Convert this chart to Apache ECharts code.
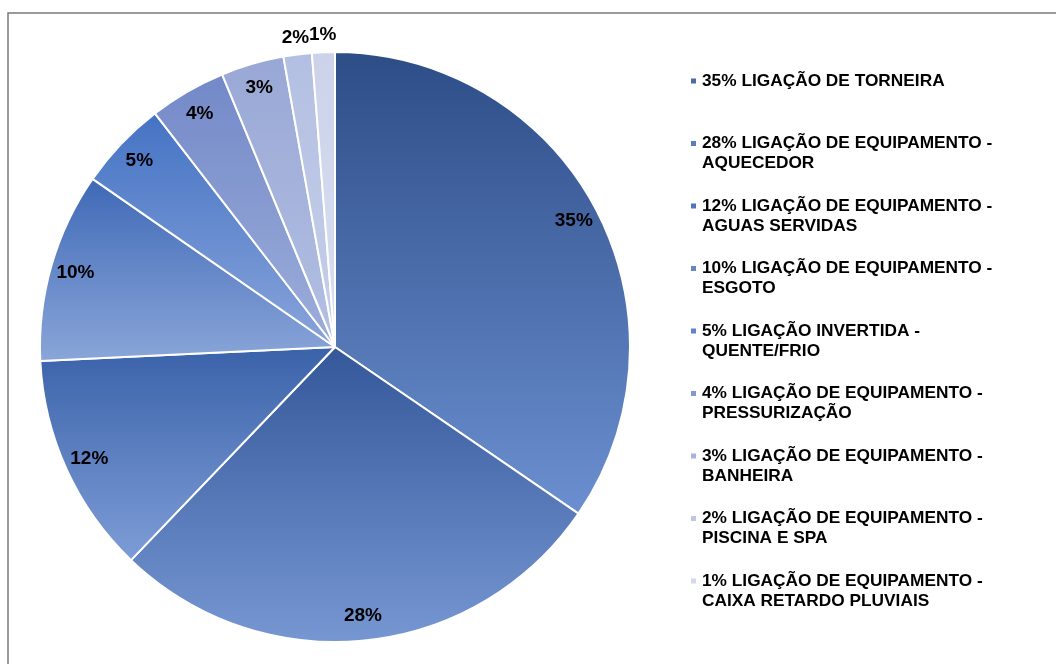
<!DOCTYPE html>
<html>
<head>
<meta charset="utf-8">
<script src="https://cdn.jsdelivr.net/npm/echarts@6/dist/echarts.min.js"></script>
<style>
html,body{margin:0;padding:0;background:#fff;}
#chart{width:1056px;height:664px;}
</style>
</head>
<body>
<div id="chart"></div>
<script>
const categories = [
  "LIGAÇÃO DE TORNEIRA",
  "LIGAÇÃO DE EQUIPAMENTO - AQUECEDOR",
  "LIGAÇÃO DE EQUIPAMENTO - AGUAS SERVIDAS",
  "LIGAÇÃO DE EQUIPAMENTO - ESGOTO",
  "LIGAÇÃO INVERTIDA - QUENTE/FRIO",
  "LIGAÇÃO DE EQUIPAMENTO - PRESSURIZAÇÃO",
  "LIGAÇÃO DE EQUIPAMENTO - BANHEIRA",
  "LIGAÇÃO DE EQUIPAMENTO - PISCINA E SPA",
  "LIGAÇÃO DE EQUIPAMENTO - CAIXA RETARDO PLUVIAIS"
];
const legendLines = [
  ["35% LIGAÇÃO DE TORNEIRA", " "],
  ["28% LIGAÇÃO DE EQUIPAMENTO -", "AQUECEDOR"],
  ["12% LIGAÇÃO DE EQUIPAMENTO -", "AGUAS SERVIDAS"],
  ["10% LIGAÇÃO DE EQUIPAMENTO -", "ESGOTO"],
  ["5% LIGAÇÃO INVERTIDA -", "QUENTE/FRIO"],
  ["4% LIGAÇÃO DE EQUIPAMENTO -", "PRESSURIZAÇÃO"],
  ["3% LIGAÇÃO DE EQUIPAMENTO -", "BANHEIRA"],
  ["2% LIGAÇÃO DE EQUIPAMENTO -", "PISCINA E SPA"],
  ["1% LIGAÇÃO DE EQUIPAMENTO -", "CAIXA RETARDO PLUVIAIS"]
];
// slice shares
const values = [34.55, 27.6, 12.1, 10.4, 4.9, 4.2, 3.45, 1.55, 1.25];
// printed (rounded) percentage labels
const labelPct = ["35%", "28%", "12%", "10%", "5%", "4%", "3%", "2%", "1%"];
const topColors = ["#2D4D87", "#34579A", "#3A62A9", "#3F69B6", "#4473C4", "#7389C8", "#98A7D5", "#B3BFE2", "#CBD2EA"];
const bottomColors = ["#6B8FD0", "#7697D2", "#7E9DD7", "#8AA6D9", "#89A4DA", "#9DAEDB", "#B4C0E3", "#C7D0EB", "#DADFF1"];
const legendColors = ["#4A6AA8", "#5B7DBE", "#4F74BC", "#6587C8", "#5D83CE", "#8299D1", "#A6B3DB", "#BCC6E5", "#D2D8EE"];
const outsideLabelIdx = [7, 8];

const chart = echarts.init(document.getElementById('chart'));

const grad = i => new echarts.graphic.LinearGradient(0, 0, 0, 1, [
  {offset: 0, color: topColors[i]},
  {offset: 1, color: bottomColors[i]}
]);

const labelFont = {fontFamily: "'Liberation Sans', Arial, sans-serif", fontWeight: 'bold', fontSize: 19, color: '#000'};

const mainData = categories.map((c, i) => ({name: c, value: values[i], itemStyle: {color: grad(i)}}));
const innerLabelData = categories.map((c, i) => ({
  name: c, value: values[i],
  label: {show: outsideLabelIdx.indexOf(i) < 0}
}));
const outerLabelData = categories.map((c, i) => ({
  name: c, value: values[i],
  label: {show: outsideLabelIdx.indexOf(i) >= 0}
}));

const legendMap = {};
categories.forEach((c, i) => { legendMap[c] = legendLines[i]; });

chart.setOption({
  animation: false,
  backgroundColor: '#fff',
  graphic: [{
    type: 'rect', silent: true, z: 0,
    shape: {x: 8, y: 13, width: 1200, height: 800},
    style: {fill: 'none', stroke: '#7a7a7a', lineWidth: 1.5}
  }],
  legend: {
    orient: 'vertical',
    left: 684,
    top: 46,
    itemWidth: 7,
    itemHeight: 7,
    itemGap: 2.5,
    icon: 'rect',
    data: categories.map((c, i) => ({name: c, itemStyle: {color: legendColors[i]}})),
    formatter: name => '\n' + legendMap[name].join('\n'),
    textStyle: {fontFamily: "'Liberation Sans', Arial, sans-serif", fontWeight: 'bold', fontSize: 17.3, color: '#000', lineHeight: 20}
  },
  series: [
    {
      type: 'pie',
      center: [335, 347],
      radius: 295,
      startAngle: 90,
      clockwise: true,
      silent: true,
      label: {show: false},
      labelLine: {show: false},
      itemStyle: {borderColor: '#fff', borderWidth: 2},
      data: mainData
    },
    {
      type: 'pie',
      center: [335, 347],
      radius: [237, 297],
      startAngle: 90,
      silent: true,
      itemStyle: {color: 'rgba(0,0,0,0)'},
      label: Object.assign({position: 'inside', formatter: p => labelPct[p.dataIndex]}, labelFont),
      labelLine: {show: false},
      labelLayout: {hideOverlap: false},
      data: innerLabelData
    },
    {
      type: 'pie',
      center: [335, 347],
      radius: [294, 324],
      startAngle: 90,
      silent: true,
      avoidLabelOverlap: false,
      itemStyle: {color: 'rgba(0,0,0,0)'},
      label: Object.assign({position: 'inside', formatter: p => labelPct[p.dataIndex]}, labelFont),
      labelLine: {show: false},
      labelLayout: {hideOverlap: false},
      data: outerLabelData
    }
  ]
});
</script>
</body>
</html>
